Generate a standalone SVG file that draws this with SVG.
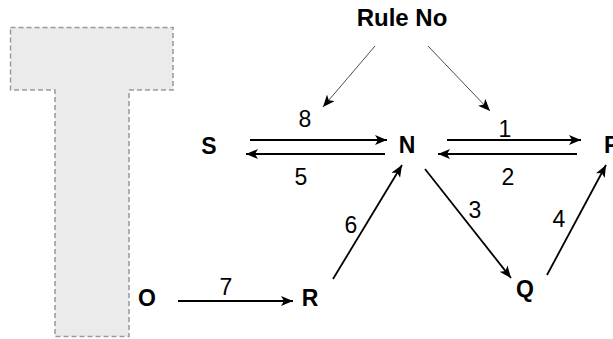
<svg xmlns="http://www.w3.org/2000/svg" width="613" height="339" viewBox="0 0 613 339">
  <defs>
    <marker id="arrow" markerUnits="userSpaceOnUse" markerWidth="12" markerHeight="10" refX="12" refY="5" orient="auto">
      <path d="M0,0 L12,5 L0,10 L3,5 Z" fill="#000"/>
    </marker>
  </defs>
  <style>
    .node { font-family: "Liberation Sans", Arial, sans-serif; font-weight: bold; font-size: 23px; fill: #000; text-anchor: middle; }
    .label { font-family: "Liberation Sans", Arial, sans-serif; font-size: 23px; fill: #000; text-anchor: middle; }
    .edge { stroke: #000; stroke-width: 1.8; fill: none; marker-end: url(#arrow); }
    .thin { stroke: #000; stroke-width: 0.7; fill: none; marker-end: url(#arrow); }
    .block { fill: #ebebeb; stroke: #9a9a9a; stroke-width: 1.5; stroke-dasharray: 5 3; }
  </style>

  <!-- T-shaped background block -->
  <g id="block">
    <path class="block" d="M10.5,27.5 H173 V90 H129 V336.5 H55 V90 H10.5 Z"/>
  </g>

  <!-- connectors -->
  <g id="connectors">
    <line class="thin" x1="375" y1="46" x2="323" y2="107"/>
    <line class="thin" x1="428" y1="46" x2="490" y2="111"/>
    <line class="edge" x1="250" y1="140" x2="387" y2="140"/>
    <line class="edge" x1="385" y1="154" x2="246" y2="154"/>
    <line class="edge" x1="447" y1="140" x2="581" y2="140"/>
    <line class="edge" x1="577" y1="154" x2="438" y2="154"/>
    <line class="edge" x1="425" y1="169" x2="511" y2="278"/>
    <line class="edge" x1="547" y1="275" x2="606" y2="165"/>
    <line class="edge" x1="333" y1="279" x2="402" y2="165"/>
    <line class="edge" x1="178" y1="301" x2="293" y2="301"/>
    <g id="edge-labels">
      <text class="label" x="305" y="127">8</text>
      <text class="label" x="505" y="137">1</text>
      <text class="label" x="301" y="185">5</text>
      <text class="label" x="508" y="185">2</text>
      <text class="label" x="475" y="218">3</text>
      <text class="label" x="559" y="227">4</text>
      <text class="label" x="351" y="233">6</text>
      <text class="label" x="226" y="295">7</text>
    </g>
  </g>

  <!-- nodes -->
  <g id="node-rule"><text class="node" x="402" y="26" style="font-size:24px">Rule No</text></g>
  <g id="node-S"><text class="node" x="209" y="154">S</text></g>
  <g id="node-N"><text class="node" x="407" y="153">N</text></g>
  <g id="node-P"><text class="node" x="604" y="153" style="text-anchor:start">P</text></g>
  <g id="node-Q"><text class="node" x="525" y="297">Q</text></g>
  <g id="node-R"><text class="node" x="310" y="306">R</text></g>
  <g id="node-O"><text class="node" x="147" y="306">O</text></g>
</svg>
